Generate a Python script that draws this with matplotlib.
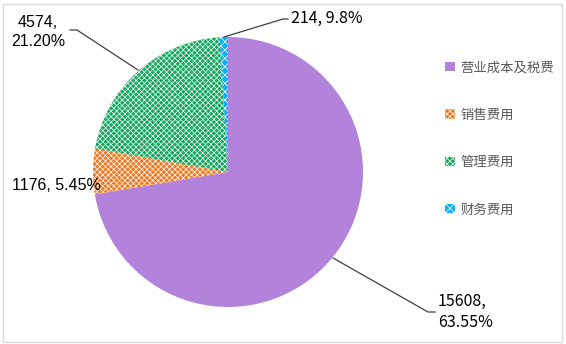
import matplotlib.pyplot as plt
from matplotlib.patches import Rectangle

plt.rcParams['font.family'] = ['Noto Sans CJK SC', 'DejaVu Sans']
plt.rcParams['hatch.linewidth'] = 0.5

# data
categories = ["营业成本及税费", "销售费用", "管理费用", "财务费用"]
values = [15608, 1176, 4574, 214]
labels = ["15608,\n63.55%", "1176, 5.45%", "4574,\n21.20%", "214, 9.8%"]
colors = ["#B383DB", "#EE7A26", "#13A85C", "#10B0F0"]
hatches = [None, "xxxxxx", "xxxxxx", "xxxx"]

W, H = 566, 344
fig = plt.figure(figsize=(W / 100, H / 100), dpi=100)
ax = fig.add_axes([0, 0, 1, 1])

# chart frame
fig.patches.append(Rectangle((3 / W, 2 / H), 559 / W, 338 / H, transform=fig.transFigure,
                             fill=False, edgecolor="#D9D9D9", linewidth=1))

cx, cy, r = 228, H - 172, 135
wedges, _ = ax.pie(values, startangle=90, counterclock=False, center=(cx, cy), radius=r,
                   frame=True)
ax.set_xlim(0, W)
ax.set_ylim(0, H)
ax.set_aspect("equal")
ax.axis("off")
for w, c, h in zip(wedges, colors, hatches):
    w.set_facecolor(c)
    w.set_linewidth(0)
    if h:
        w.set_edgecolor("white")
        w.set_hatch(h)

# leader lines (pixel coords, y from top)
leaders = [
    [(333, 258), (428, 312), (435, 312)],
    None,
    [(138, 70), (77, 30), (70, 30)],
    [(224, 37), (283, 19), (288, 19)],
]
for pts in leaders:
    if pts:
        ax.plot([p[0] for p in pts], [H - p[1] for p in pts], color="#404040", lw=0.9)

lbl_pos = [(438, 312, "left", "Noto Sans CJK SC"),
           (56, 185, "center", "Liberation Sans"),
           (38, 32, "center", "Liberation Sans"),
           (291, 18, "left", "Noto Sans CJK SC")]
for txt, (x, y, ha, fam) in zip(labels, lbl_pos):
    ax.text(x, H - y, txt, ha=ha, va="center", fontsize=11.5, family=fam,
            linespacing=1.35, color="black")

leg = ax.legend(wedges, categories, loc="upper left", bbox_to_anchor=(440 / W, 1 - 55 / H),
                frameon=False, fontsize=9.6, labelspacing=2.5, handlelength=0.7,
                handleheight=0.7, handletextpad=0.45, borderaxespad=0)
for t in leg.get_texts():
    t.set_color("#595959")

fig.savefig("out.png", dpi=100)
